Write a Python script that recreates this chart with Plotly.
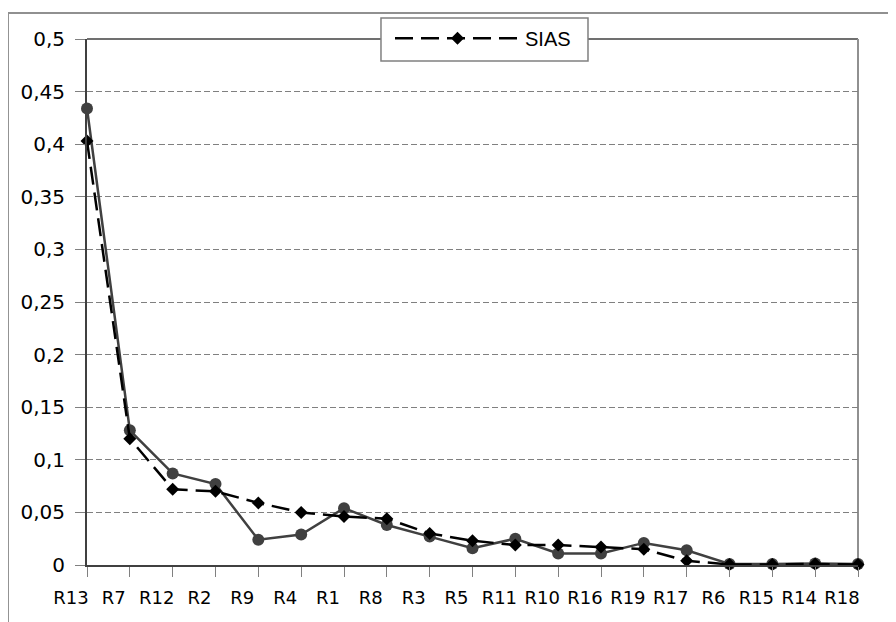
import plotly.graph_objects as go

categories = ["R13", "R7", "R12", "R2", "R9", "R4", "R1", "R8", "R3", "R5",
              "R11", "R10", "R16", "R19", "R17", "R6", "R15", "R14", "R18"]
series_solid = [0.434, 0.128, 0.087, 0.077, 0.024, 0.029, 0.054, 0.038, 0.027, 0.016,
                0.025, 0.011, 0.011, 0.021, 0.014, 0.001, 0.001, 0.0015, 0.001]
series_sias = [0.403, 0.120, 0.072, 0.070, 0.059, 0.050, 0.046, 0.044, 0.030, 0.023,
               0.019, 0.019, 0.017, 0.015, 0.004, 0.0005, 0.0005, 0.001, 0.0005]
y_tickvals = [0, 0.05, 0.1, 0.15, 0.2, 0.25, 0.3, 0.35, 0.4, 0.45, 0.5]
y_ticktext = ["0", "0,05", "0,1", "0,15", "0,2", "0,25", "0,3", "0,35", "0,4", "0,45", "0,5"]

FONT = "Liberation Sans, Arial, sans-serif"
TICKFONT = "DejaVu Sans, Liberation Sans, sans-serif"

fig = go.Figure()
fig.add_trace(go.Scatter(
    x=categories, y=series_solid, mode="lines+markers", showlegend=False,
    line=dict(color="#404040", width=2.5),
    marker=dict(symbol="circle", size=12, color="#404040"),
    cliponaxis=False,
))
fig.add_trace(go.Scatter(
    x=categories, y=series_sias, mode="lines+markers", name="SIAS",
    line=dict(color="#000000", width=2.5, dash="18px,8px"),
    marker=dict(symbol="diamond", size=10, color="#000000"),
    cliponaxis=False,
))

fig.update_layout(
    width=888, height=614,
    margin=dict(l=79, r=38, t=30, b=57),
    paper_bgcolor="white", plot_bgcolor="white",
    font=dict(family=FONT, size=18, color="#000000"),
    legend=dict(
        x=0.393, y=0.9993, xanchor="left", yanchor="middle",
        bgcolor="rgba(0,0,0,0)", borderwidth=0,
        font=dict(size=20, family=FONT), itemwidth=125,
    ),
    xaxis=dict(
        type="category", categoryorder="array", categoryarray=categories,
        range=[0, len(categories) - 1],
        showline=True, linecolor="#404040", linewidth=2,
        ticks="outside", ticklen=10, tickcolor="#808080", tickwidth=1,
        ticklabelstandoff=5,
        showgrid=False, zeroline=False,
        tickfont=dict(size=18, family=TICKFONT),
        ticklabelshift=-16,
    ),
    yaxis=dict(
        range=[0, 0.5], tickvals=y_tickvals, ticktext=y_ticktext,
        showline=True, linecolor="#404040", linewidth=2,
        ticks="outside", ticklen=10, tickcolor="#808080", tickwidth=1,
        ticklabelstandoff=6,
        showgrid=True, gridcolor="#808080", gridwidth=1, griddash="6px,3px",
        zeroline=False,
        tickfont=dict(size=20, family=TICKFONT),
    ),
    shapes=[
        # plot area border (top and right)
        dict(type="line", xref="paper", yref="paper", x0=0, x1=1, y0=1, y1=1,
             line=dict(color="#404040", width=1.5), layer="below"),
        dict(type="line", xref="paper", yref="paper", x0=1, x1=1, y0=0, y1=1,
             line=dict(color="#909090", width=2), layer="below"),
        # outer chart frame (partially visible)
        dict(type="rect", xref="paper", yref="paper",
             x0=-0.1025, x1=1.3, y0=-0.3, y1=1.0493,
             line=dict(color="#909090", width=2), layer="below"),
        # legend box
        dict(type="rect", xref="paper", yref="paper",
             x0=0.3813, x1=0.6498, y0=0.9583, y1=1.0398,
             fillcolor="white", line=dict(color="#808080", width=1.5), layer="above"),
    ],
)

fig.write_html("out.html")
